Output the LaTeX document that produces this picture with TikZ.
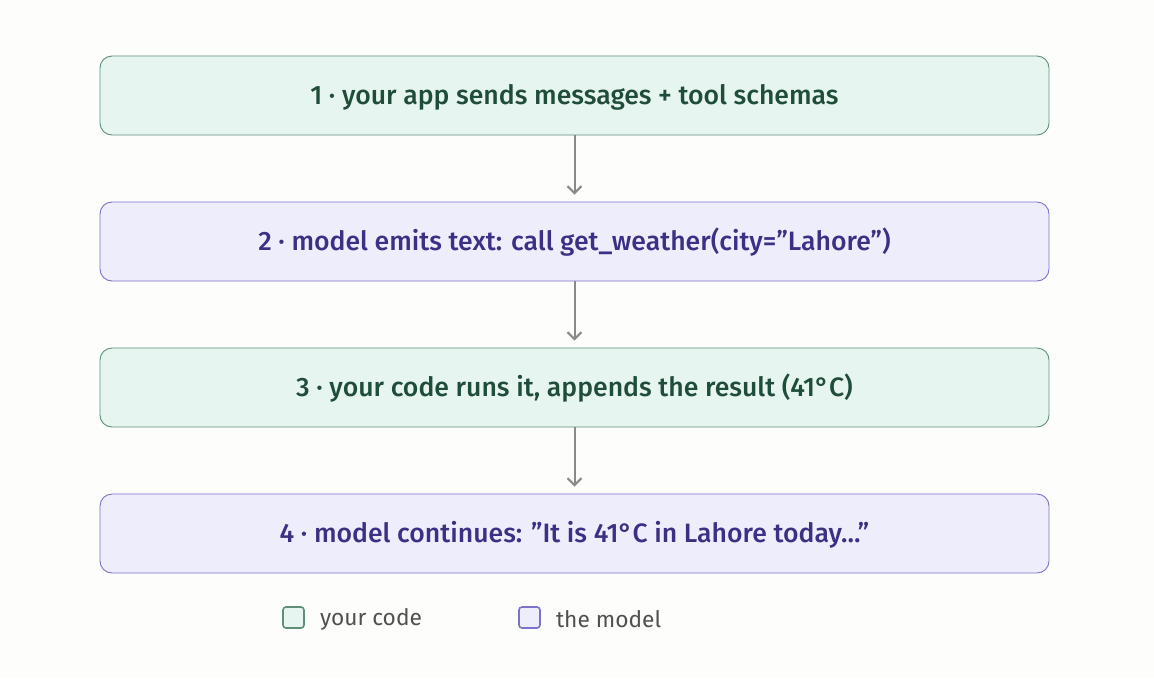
\documentclass[tikz,border=0pt]{standalone}
\usepackage{fontspec}
\setmainfont{Fira Sans Medium}
\newfontfamily\keyfont{Fira Sans}
\usetikzlibrary{positioning,arrows.meta}
\definecolor{pagebg}{HTML}{FDFDFB}
\definecolor{codefill}{HTML}{E6F5EF}
\definecolor{codeline}{HTML}{5E8F78}
\definecolor{codetext}{HTML}{1F4D3A}
\definecolor{modelfill}{HTML}{EEEDFC}
\definecolor{modelline}{HTML}{7B72C9}
\definecolor{modeltext}{HTML}{3A3185}
\definecolor{arrowgray}{HTML}{8A8A88}
\definecolor{keytext}{HTML}{505050}
\tikzset{
  stagebox/.style={rounded corners=12pt, line width=0.9pt, minimum width=949pt,
    minimum height=79pt, inner sep=0pt, text height=18.3pt, text depth=0pt,
    font=\fontsize{26.6}{31}\selectfont},
  codebox/.style={stagebox, draw=codeline, fill=codefill, text=codetext},
  modelbox/.style={stagebox, draw=modelline, fill=modelfill, text=modeltext},
  flowarrow/.style={draw=arrowgray, line width=2pt,
    -{Straight Barb[length=7pt,width=14pt,line width=2pt]}, shorten >=7pt},
  keysquare/.style={rounded corners=3pt, line width=1.6pt, minimum size=21pt, inner sep=0pt},
  keylabel/.style={text=keytext, font=\keyfont\fontsize{22.7}{27}\selectfont, inner sep=0pt,
    anchor=west, yshift=-2pt}
}
\begin{document}
\begin{tikzpicture}[x=1pt,y=-1pt]
  \fill[pagebg] (0,0) rectangle (1154,678);
  \useasboundingbox (0,0) rectangle (1154,678);

  \node[codebox] (send) at (574.5,95.5) {1 · your app sends messages + tool schemas};
  \node[modelbox] (emit) at (574.5,241.5) {2 · model emits text: call get\_weather(city=”Lahore”)};
  \node[codebox] (run) at (574.5,387.5) {3 · your code runs it, appends the result (41°C)};
  \node[modelbox] (reply) at (574.5,533.5) {4 · model continues: ”It is 41°C in Lahore today…”};

  \draw[flowarrow] (send) -- (emit);
  \draw[flowarrow] (emit) -- (run);
  \draw[flowarrow] (run) -- (reply);

  % legend
  \node[keysquare, draw=codeline, fill=codefill] (keycode) at (293.5,617.5) {};
  \node[keylabel, right=15pt of keycode] (keycodetext) {your code};
  \node[keysquare, draw=modelline, fill=modelfill] (keymodel) at (529.5,617.5) {};
  \node[keylabel, right=15pt of keymodel] (keymodeltext) {the model};
\end{tikzpicture}
\end{document}
